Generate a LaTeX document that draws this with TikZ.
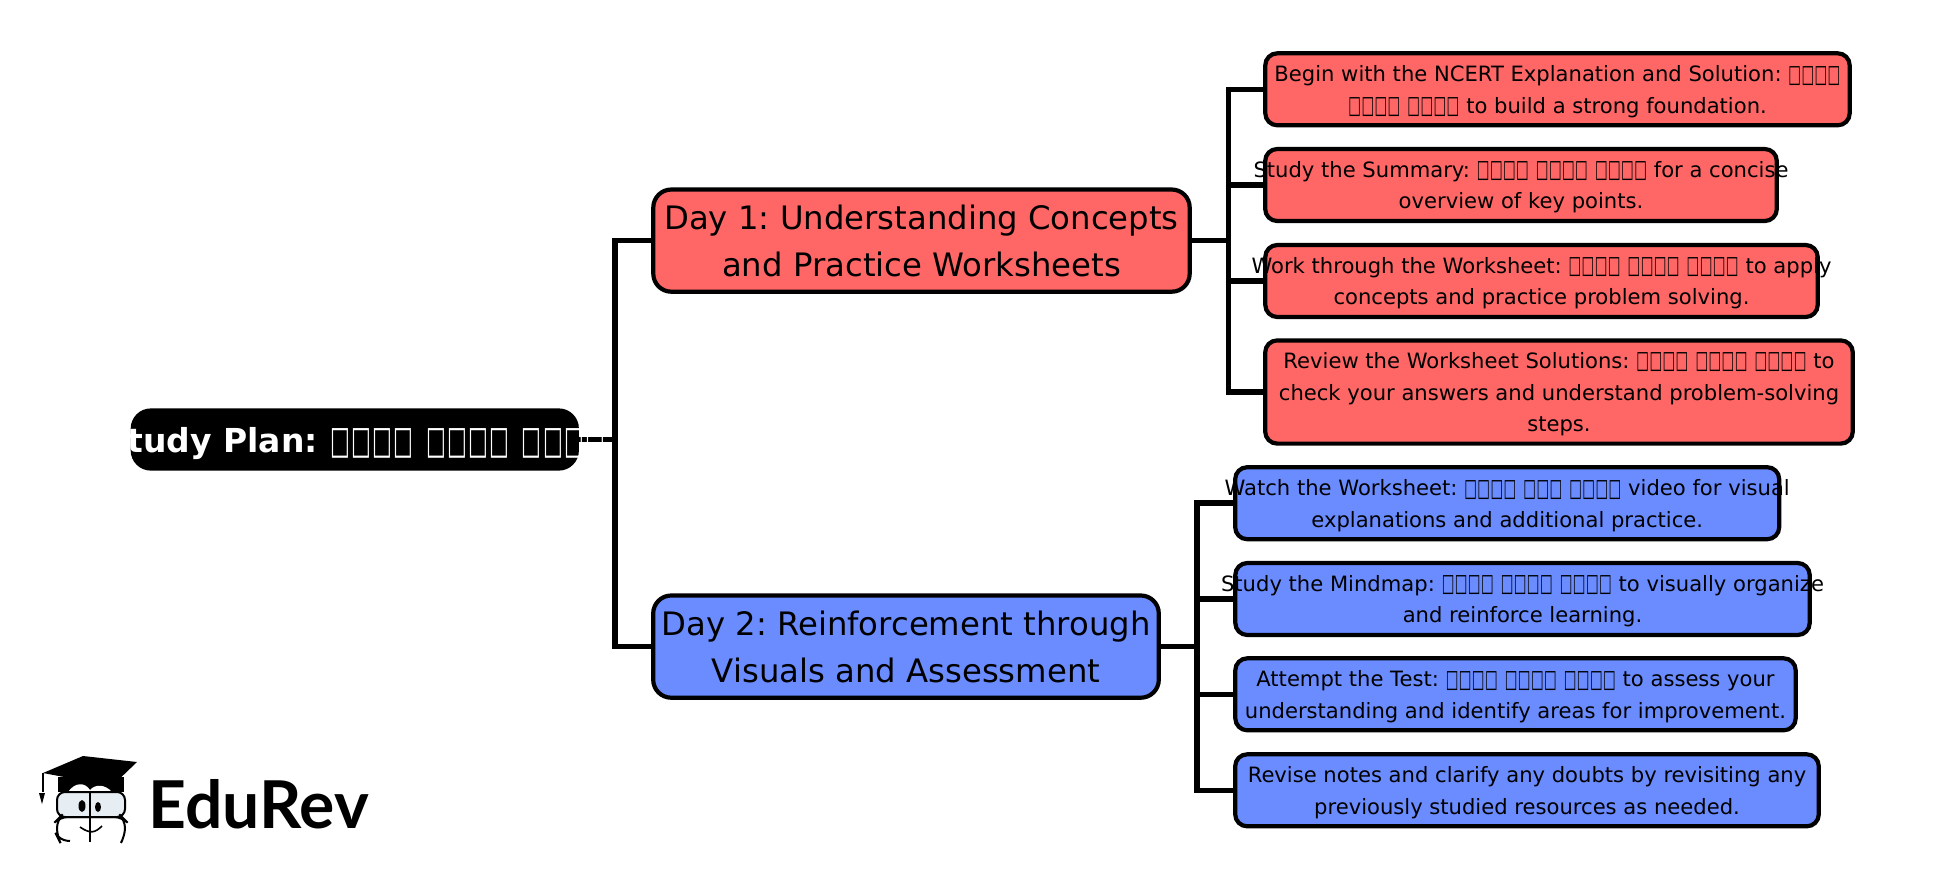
\documentclass[tikz,border=0pt]{standalone}
\usepackage{fontspec}
\usepackage{graphicx}
\setmainfont{DejaVu Sans}
\frenchspacing
\usetikzlibrary{backgrounds}
\definecolor{dayred}{HTML}{FF6666}
\definecolor{dayblue}{HTML}{6A8CFF}
\definecolor{logoface}{HTML}{E6EEF4}
\newfontfamily\logofont{Lato}
\newcommand{\tofuw}{.62em}
\newcommand{\tofu}{\makebox[\tofuw]{\raisebox{-.033em}{\resizebox*{.6em}{.9em}{□}}}}
\newcommand{\wordf}{\tofu\tofu\tofu\tofu}
\newcommand{\wordt}{\tofu\tofu\tofu}
\newcommand{\tl}[1]{\makebox[0pt]{\raisebox{-.38em}[0pt][0pt]{#1}}}
\tikzset{
    box/.style={draw=black,line width=2.1pt,inner sep=0pt,align=center},
    rootbox/.style={box,fill=black,text=white,rounded corners=9pt,font=\fontsize{16.5}{20}\selectfont\bfseries,minimum width=222pt,minimum height=29pt},
    daybox/.style={box,rounded corners=9pt,font=\fontsize{16.15}{23.6}\selectfont,minimum height=51.1pt},
    leaf/.style={box,rounded corners=6pt,font=\fontsize{10.55}{15.9}\selectfont,minimum height=36pt},
    link/.style={line width=2.8pt,line cap=butt},
}
\begin{document}
\begin{tikzpicture}[x=.5pt,y=-.5pt]
    \useasboundingbox (0,0) rectangle (1956,880);
    % boxes
    \node[rootbox] (root) at (354.8,439.5) {\renewcommand{\tofuw}{.64em}\tl{Study Plan: \wordf{} \wordf{} \wordf}};
    \node[daybox,fill=dayred,minimum width=268.2pt] (dayone) at (921.5,240.6) {\tl{Day 1: Understanding Concepts}\\\tl{and Practice Worksheets}};
    \node[daybox,fill=dayblue,minimum width=252.8pt] (daytwo) at (906,646.6) {\tl{Day 2: Reinforcement through}\\\tl{Visuals and Assessment}};
    \node[leaf,fill=dayred,minimum width=292.2pt] (ncert) at (1557.5,89.3) {\tl{Begin with the NCERT Explanation and Solution: \wordf}\\\tl{\wordf{} \wordf{} to build a strong foundation.}};
    \node[leaf,fill=dayred,minimum width=255.8pt] (summary) at (1521,185) {\tl{Study the Summary: \wordf{} \wordf{} \wordf{} for a concise}\\\tl{overview of key points.}};
    \node[leaf,fill=dayred,minimum width=276.2pt] (sheet) at (1541.5,281) {\tl{Work through the Worksheet: \wordf{} \wordf{} \wordf{} to apply}\\\tl{concepts and practice problem solving.}};
    \node[leaf,fill=dayred,minimum width=293.8pt,minimum height=51.6pt] (solutions) at (1559,392) {\tl{Review the Worksheet Solutions: \wordf{} \wordf{} \wordf{} to}\\\tl{check your answers and understand problem-solving}\\\tl{steps.}};
    \node[leaf,fill=dayblue,minimum width=272pt] (video) at (1507.2,503.2) {\tl{Watch the Worksheet: \wordf{} \wordt{} \wordf{} video for visual}\\\tl{explanations and additional practice.}};
    \node[leaf,fill=dayblue,minimum width=287.2pt] (mindmap) at (1522.5,599) {\tl{Study the Mindmap: \wordf{} \wordf{} \wordf{} to visually organize}\\\tl{and reinforce learning.}};
    \node[leaf,fill=dayblue,minimum width=280.2pt] (test) at (1515.5,694.3) {\tl{Attempt the Test: \wordf{} \wordf{} \wordf{} to assess your}\\\tl{understanding and identify areas for improvement.}};
    \node[leaf,fill=dayblue,minimum width=291.8pt] (revise) at (1527,790.3) {\tl{Revise notes and clarify any doubts by revisiting any}\\\tl{previously studied resources as needed.}};
    % joints of the tree
    \coordinate (trunk) at (615,439.5);
    \coordinate (jointa) at (1228.6,240.6);
    \coordinate (jointb) at (1197,646.6);
    % connectors lie under the boxes, the long labels run over them
    \begin{scope}[on background layer]
        \draw[link] (root.east) -- (trunk);
        \draw[link] (dayone.west) -| (trunk) |- (daytwo.west);
        \draw[link] (dayone.east) -- (jointa);
        \draw[link] (daytwo.east) -- (jointb);
        \foreach \leafname in {ncert,summary,sheet,solutions}
            \draw[link] (jointa) |- (\leafname.west);
        \foreach \leafname in {video,mindmap,test,revise}
            \draw[link] (jointb) |- (\leafname.west);
    \end{scope}
    % logo
    \fill (58,777) -- (58,792) -- (124,792) -- (124,777) -- cycle;
    \fill[white] (68,792) .. controls (75,782) and (85,782) .. (90,790) .. controls (95,784) and (105,784) .. (112,792) -- cycle;
    \fill (43,773) -- (83,756) -- (137,762) -- (112,786) -- cycle;
    \draw[line width=.6pt] (43,773) -- (43,792);
    \fill (39,793) -- (45,793) -- (42,804) -- cycle;
    \draw[line width=1pt,fill=logoface,rounded corners=4pt] (57,792) rectangle (125,817);
    \draw[line width=1pt,rounded corners=4pt] (70,841) -- (59,840) -- (57,836) -- (57,820) -- (60,817) -- (122,817) -- (125,820) -- (125,836) -- (122,841);
    \draw[line width=.9pt] (90,792) -- (90,842);
    \fill (82,806) ellipse (3.5 and 6);
    \fill (98,807) ellipse (3 and 5);
    \draw[line width=.8pt] (80,827) .. controls (90,834) and (95,833) .. (102,826);
    \node[font=\logofont\fontsize{33}{33}\selectfont\bfseries,anchor=base west,inner sep=0pt] (brand) at (148,828) {EduRev};
\end{tikzpicture}
\end{document}
